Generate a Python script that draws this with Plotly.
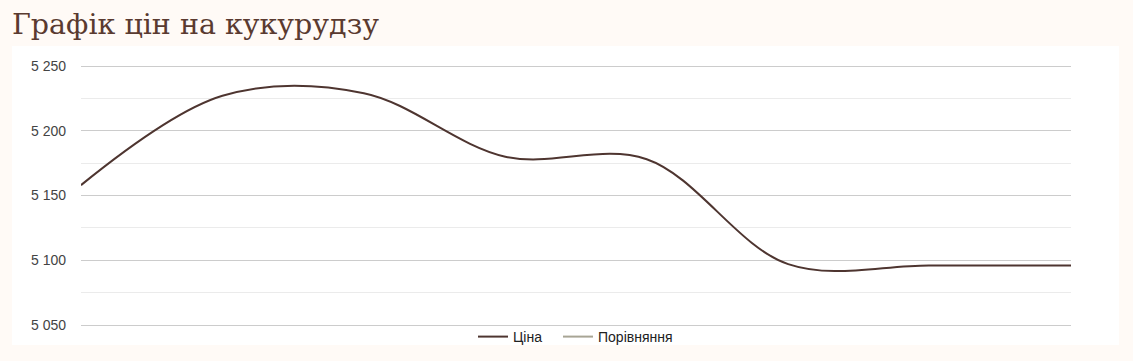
import plotly.graph_objects as go

# Data
points = [0, 1, 2, 3, 4, 5, 6, 7]
price = [5158, 5227, 5229, 5180, 5178, 5097, 5096, 5096]
comparison = [None, None, None, None, None, None, None, None]
series_names = ["Ціна", "Порівняння"]
y_ticks = [5050, 5100, 5150, 5200, 5250]
title_text = "Графік цін на кукурудзу"

W, H = 1133, 361
L, R, T, B = 81, 62, 63, 32
pw = W - L - R
ph = H - T - B
ppu = (325 - 66) / (y_ticks[-1] - y_ticks[0])   # pixels per unit
y_top = y_ticks[-1] + (66 - T) / ppu
y_bot = y_ticks[0] - ((H - B) - 325) / ppu


def ypaper(py):
    return ((H - B) - py) / ph


fig = go.Figure()
fig.add_trace(go.Scatter(
    x=points, y=price, name=series_names[0], mode="lines",
    line=dict(color="#4e3530", width=2, shape="spline", smoothing=1.0),
    hoverinfo="skip", legend="legend",
))
fig.add_trace(go.Scatter(
    x=points, y=comparison, name=series_names[1], mode="lines",
    line=dict(color="#a8a595", width=2),
    hoverinfo="skip", legend="legend2",
))

# white panel behind the chart
fig.add_shape(
    type="rect", xref="paper", yref="paper",
    x0=(12 - L) / pw, x1=(1119 - L) / pw,
    y0=ypaper(345), y1=ypaper(46),
    fillcolor="#ffffff", line=dict(width=0), layer="below",
)

legend_common = dict(
    orientation="h", xanchor="left", xref="container",
    y=1 - 337 / H, yanchor="middle", yref="container",
    font=dict(family="Liberation Sans, Arial", size=14, color="#222222"),
    bgcolor="rgba(0,0,0,0)", itemwidth=30, tracegroupgap=0,
)

fig.update_layout(
    width=W, height=H,
    margin=dict(l=L, r=R, t=T, b=B, pad=0, autoexpand=False),
    paper_bgcolor="#fffaf6",
    plot_bgcolor="rgba(0,0,0,0)",
    separators=". ",
    title=dict(
        text=title_text, x=12 / W, xanchor="left", xref="container",
        y=1 - 24 / H, yanchor="middle", yref="container",
        font=dict(family="DejaVu Serif", size=28.5, color="#5a3a30"),
    ),
    showlegend=True,
    legend=dict(x=(479 - 6) / W, **legend_common),
    legend2=dict(x=(564 - 6) / W, **legend_common),
    xaxis=dict(
        range=[points[0], points[-1]], showgrid=False, zeroline=False,
        showticklabels=False, showline=False, fixedrange=True,
    ),
    yaxis=dict(
        range=[y_bot, y_top], tickvals=y_ticks, tickformat=",d",
        showgrid=True, gridcolor="#cccccc", gridwidth=1,
        zeroline=False, showline=False,
        tickfont=dict(family="Liberation Sans, Arial", size=14, color="#444444"),
        ticks="", ticklabelstandoff=14,
        minor=dict(tickvals=[5075, 5125, 5175, 5225], showgrid=True,
                   gridcolor="#ebebeb", gridwidth=1),
        fixedrange=True,
    ),
)

fig.write_html("out.html", config={"displayModeBar": False})
